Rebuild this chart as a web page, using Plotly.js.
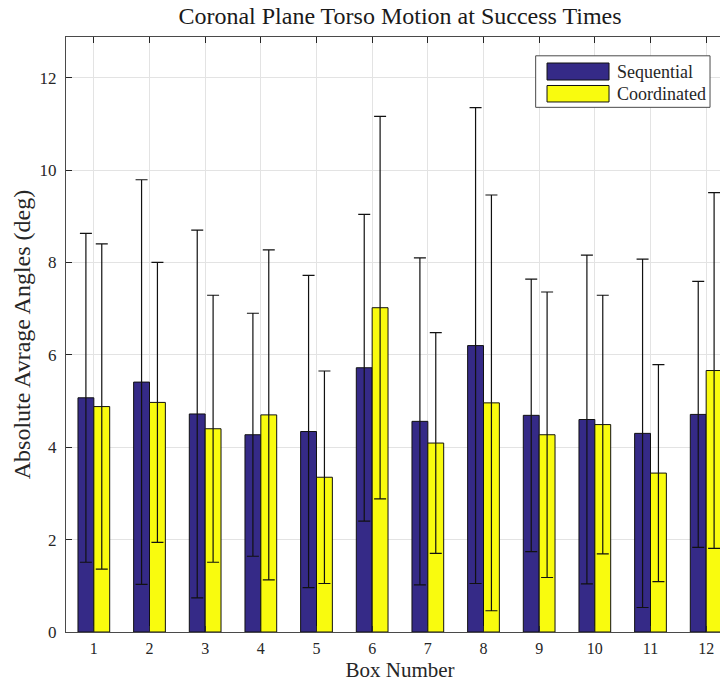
<!DOCTYPE html>
<html>
<head>
<meta charset="utf-8">
<script src="https://cdn.plot.ly/plotly-3.0.1.min.js"></script>
<style>
  html, body { margin: 0; padding: 0; overflow: hidden; background: #ffffff; }
  #chart { width: 740px; height: 682px; }
</style>
</head>
<body>
<div id="chart"></div>
<script>
// ---- data ----
const boxNumbers = [1, 2, 3, 4, 5, 6, 7, 8, 9, 10, 11, 12];
const tickLabels = ['1', '2', '3', '4', '5', '6', '7', '8', '9', '10', '11', '12'];
const sequentialMean = [5.07, 5.41, 4.72, 4.27, 4.34, 5.72, 4.56, 6.20, 4.69, 4.60, 4.30, 4.71];
const sequentialSD   = [3.56, 4.38, 3.98, 2.63, 3.38, 3.32, 3.54, 5.15, 2.95, 3.56, 3.77, 2.88];
const coordinatedMean = [4.88, 4.97, 4.40, 4.70, 3.35, 7.02, 4.09, 4.96, 4.27, 4.49, 3.44, 5.66];
const coordinatedSD   = [3.52, 3.03, 2.89, 3.57, 2.30, 4.14, 2.39, 4.50, 3.09, 2.80, 2.35, 3.85];
const seriesNames = ['Sequential', 'Coordinated'];
const seriesColors = ['#352a87', '#f9fb0e'];

const serif = 'Liberation Serif';
const ink = '#262626';

function barTrace(name, y, sd, color) {
  return {
    type: 'bar',
    name: name,
    x: boxNumbers,
    y: y,
    marker: { color: color, line: { color: '#111111', width: 1 } },
    error_y: { type: 'data', array: sd, visible: true, color: '#111111', thickness: 1.2, width: 6 },
    hoverinfo: 'x+y'
  };
}

const data = [
  barTrace(seriesNames[0], sequentialMean, sequentialSD, seriesColors[0]),
  barTrace(seriesNames[1], coordinatedMean, coordinatedSD, seriesColors[1])
];

// legend drawn as paper-referenced shapes + text (wide MATLAB-style swatches)
const lg = { x0: 0.7031, x1: 0.9641, y0: 0.8818, y1: 0.9684, sx0: 0.7201, sx1: 0.8129,
             rows: [[0.9277, 0.9563, 0.9420], [0.8908, 0.9185, 0.9047]], tx: 0.8219 };
const shapes = [
  { type: 'rect', xref: 'paper', yref: 'paper', x0: lg.x0, x1: lg.x1, y0: lg.y0, y1: lg.y1,
    fillcolor: '#ffffff', line: { color: '#4a4a4a', width: 1 }, layer: 'above' }
];
const annotations = [];
seriesNames.forEach((n, i) => {
  shapes.push({ type: 'rect', xref: 'paper', yref: 'paper', x0: lg.sx0, x1: lg.sx1,
    y0: lg.rows[i][0], y1: lg.rows[i][1], fillcolor: seriesColors[i],
    line: { color: '#111111', width: 1 }, layer: 'above' });
  annotations.push({ xref: 'paper', yref: 'paper', x: lg.tx, y: lg.rows[i][2], xanchor: 'left',
    yanchor: 'middle', text: n, showarrow: false, font: { family: serif, size: 18, color: ink } });
});

const layout = {
  width: 740,
  height: 682,
  autosize: false,
  margin: { l: 66, r: 6, t: 37, b: 50, pad: 0 },
  paper_bgcolor: '#ffffff',
  plot_bgcolor: '#ffffff',
  showlegend: false,
  barmode: 'group',
  bargap: 0.43,
  bargroupgap: 0,
  title: {
    text: 'Coronal Plane Torso Motion at Success Times',
    font: { family: serif, size: 24, color: '#1a1a1a' },
    x: 0.5, xref: 'paper', xanchor: 'center',
    y: 1 - 16 / 682, yref: 'container', yanchor: 'middle'
  },
  xaxis: {
    range: [0.5, 12.5],
    tickmode: 'array',
    tickvals: boxNumbers,
    ticktext: tickLabels,
    ticks: 'inside', ticklen: 6, tickcolor: ink, tickwidth: 1,
    ticklabelstandoff: 2,
    showline: true, linecolor: '#4a4a4a', linewidth: 1, mirror: 'ticks',
    showgrid: true, gridcolor: '#e3e3e3', gridwidth: 1,
    zeroline: false,
    tickfont: { family: serif, size: 16, color: ink },
    title: { text: 'Box Number', font: { family: serif, size: 21, color: ink }, standoff: 7 },
    automargin: false
  },
  yaxis: {
    range: [0, 12.88],
    tickmode: 'array',
    tickvals: [0, 2, 4, 6, 8, 10, 12],
    ticktext: ['0', '2', '4', '6', '8', '10', '12'],
    ticks: 'inside', ticklen: 6, tickcolor: ink, tickwidth: 1,
    ticklabelstandoff: 5,
    showline: true, linecolor: '#4a4a4a', linewidth: 1, mirror: 'ticks',
    showgrid: true, gridcolor: '#e3e3e3', gridwidth: 1,
    zeroline: false,
    tickfont: { family: serif, size: 17, color: ink },
    title: { text: 'Absolute Avrage Angles (deg)', font: { family: serif, size: 24, color: ink }, standoff: 2 },
    automargin: false
  },
  shapes: shapes,
  annotations: annotations
};

Plotly.newPlot('chart', data, layout, { displayModeBar: false, staticPlot: true });
</script>
</body>
</html>
